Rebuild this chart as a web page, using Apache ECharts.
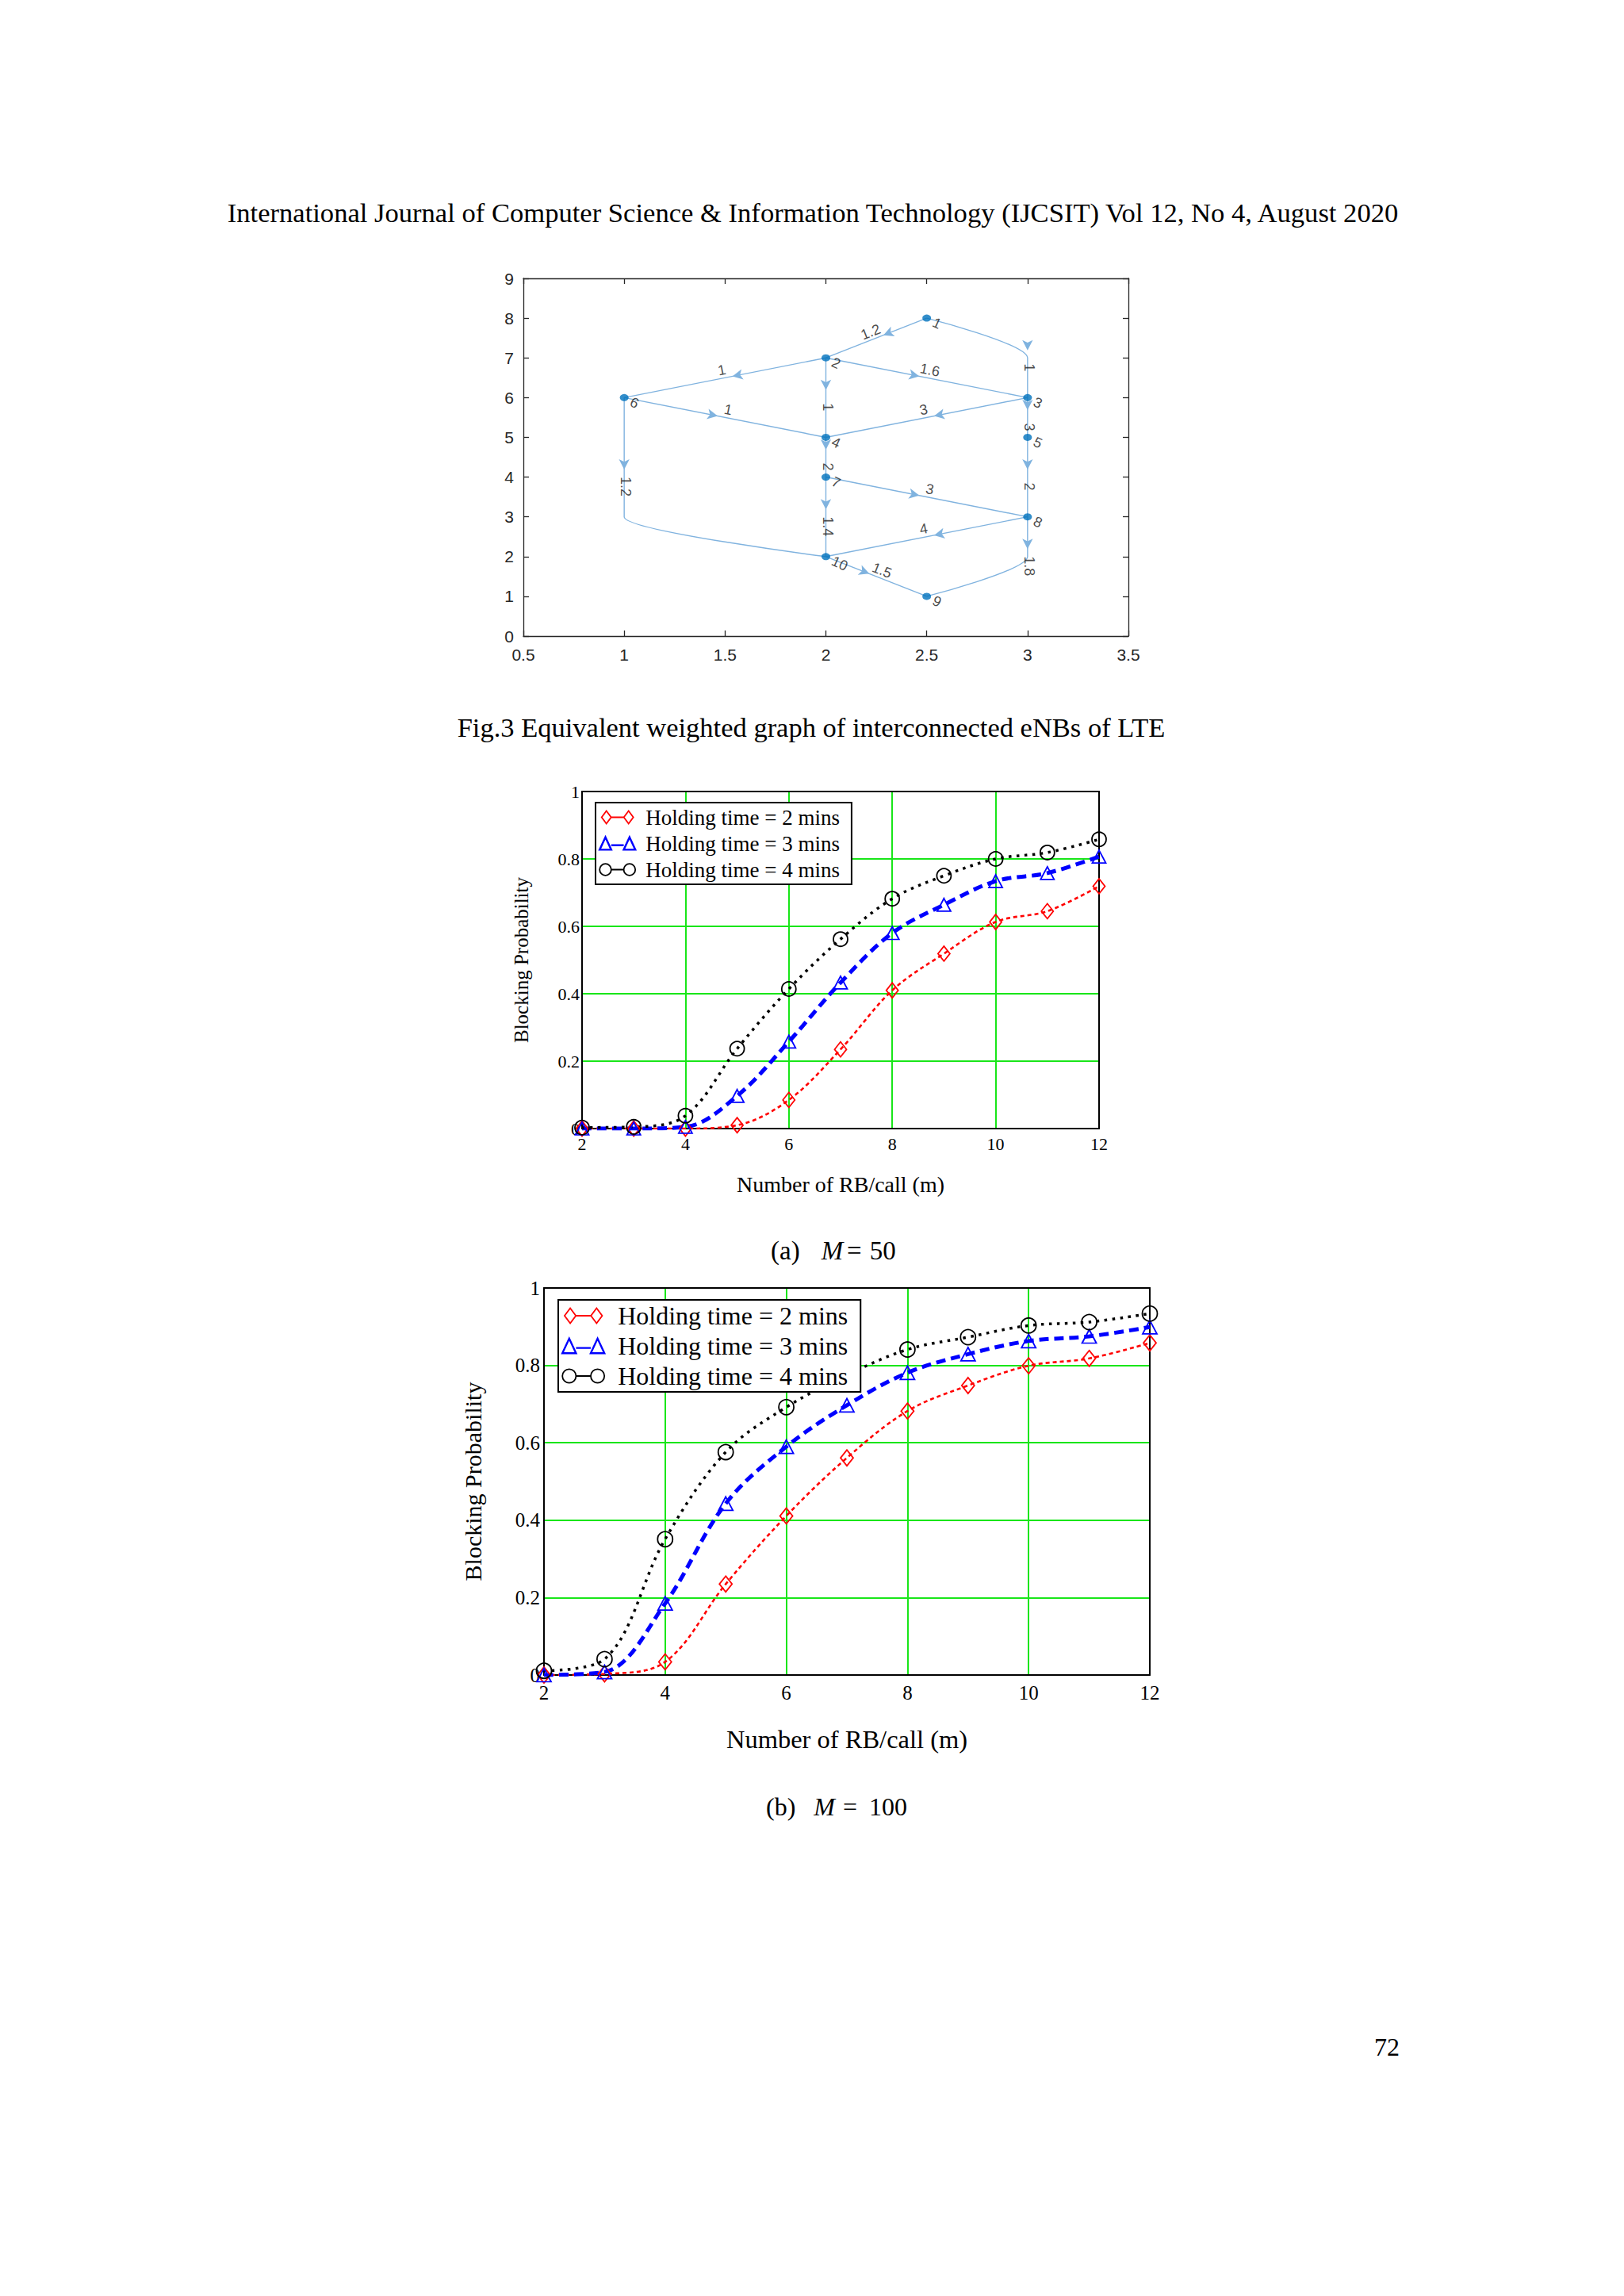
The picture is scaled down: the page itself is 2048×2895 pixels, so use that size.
<!DOCTYPE html>
<html>
<head>
<meta charset="utf-8">
<script src="https://cdn.jsdelivr.net/npm/echarts@6/dist/echarts.min.js"></script>
<style>
html,body{margin:0;padding:0;background:#fff;}
#c{width:2048px;height:2895px;}
</style>
</head>
<body>
<div id="c"></div>
<script>
// ---------------- Fig.3 : weighted graph data ----------------
const nodeNames = ['1', '2', '3', '4', '5', '6', '7', '8', '9', '10'];
const nodeX = [2.5, 2, 3, 2, 3, 1, 2, 3, 2.5, 2];
const nodeY = [8, 7, 6, 5, 5, 6, 4, 3, 1, 2];
const edgeSource = [1, 1, 2, 2, 2, 3, 3, 4, 5, 6, 6, 7, 7, 8, 8, 10];
const edgeTarget = [2, 3, 6, 3, 4, 4, 5, 7, 8, 4, 10, 8, 10, 10, 9, 9];
const edgeWeight = [1.2, 1, 1, 1.6, 1, 3, 3, 2, 2, 1, 1.2, 3, 1.4, 4, 1.8, 1.5];
// layered-layout bend points of the edges that span several layers (key = edge index)
const edgeBends = {1: [[3, 7]], 10: [[1, 5], [1, 4], [1, 3]], 14: [[3, 2]]};
const graphXTicks = [0.5, 3.5, 0.5];   // min, max, step
const graphYTicks = [0, 9, 1];

// ---------------- Blocking probability data ----------------
const rbPerCall = [2, 3, 4, 5, 6, 7, 8, 9, 10, 11, 12];
const seriesNames = ['Holding time = 2 mins', 'Holding time = 3 mins', 'Holding time = 4 mins'];
const blockM50_2min = [0, 0, 0, 0.01, 0.085, 0.235, 0.41, 0.519, 0.613, 0.645, 0.719];
const blockM50_3min = [0, 0, 0.005, 0.097, 0.258, 0.433, 0.58, 0.664, 0.734, 0.758, 0.807];
const blockM50_4min = [0.003, 0.005, 0.038, 0.237, 0.414, 0.562, 0.682, 0.75, 0.80, 0.819, 0.858];
const blockM100_2min = [0, 0.003, 0.034, 0.235, 0.411, 0.561, 0.682, 0.748, 0.799, 0.818, 0.858];
const blockM100_3min = [0, 0.008, 0.185, 0.443, 0.59, 0.697, 0.781, 0.829, 0.863, 0.875, 0.899];
const blockM100_4min = [0.011, 0.041, 0.351, 0.576, 0.692, 0.775, 0.841, 0.873, 0.903, 0.912, 0.934];
const rbTicks = [2, 12, 2];
const probTicks = [0, 1, 0.2];

// ---------------- layout / style ----------------
const SERIF = 'Liberation Serif';
const SANS = 'Liberation Sans';
const GREEN = '#19e619';
const EDGE = '#80b3df';
const MATBLUE = '#0072bd';
const AXGRAY = '#262626';

const G0 = {left: 660, top: 351, width: 763, height: 451};
const G1 = {left: 734, top: 998, width: 652, height: 425};
const G2 = {left: 686, top: 1624, width: 764, height: 488};

const pxX = G0.width / (graphXTicks[1] - graphXTicks[0]);
const pxY = G0.height / (graphYTicks[1] - graphYTicks[0]);

// ---- build graph series ----
const series = [];
const arrowData = [];
const weightData = [];
edgeSource.forEach(function (s, i) {
  const t = edgeTarget[i];
  const pts = [[nodeX[s - 1], nodeY[s - 1]]].concat(edgeBends[i] || [], [[nodeX[t - 1], nodeY[t - 1]]]);
  const bent = pts.length > 2;
  series.push({
    type: 'line', xAxisIndex: 0, yAxisIndex: 0, data: pts, symbol: 'none',
    smooth: bent ? 0.35 : false, smoothMonotone: 'y',
    lineStyle: {color: EDGE, width: 1.4}, silent: true, z: 2, animation: false
  });
  let M, ux, uy;
  if (bent) {
    const k = Math.floor(pts.length / 2);
    M = pts[k];
    ux = 0; uy = pts[k + 1][1] < pts[k - 1][1] ? 1 : -1;
  } else {
    M = [(pts[0][0] + pts[1][0]) / 2, (pts[0][1] + pts[1][1]) / 2];
    const sx = (pts[1][0] - pts[0][0]) * pxX, sy = -(pts[1][1] - pts[0][1]) * pxY;
    const L = Math.hypot(sx, sy); ux = sx / L; uy = sy / L;
  }
  const d = 9.5;
  arrowData.push({
    value: [M[0] - ux * d / pxX, M[1] + uy * d / pxY],
    symbolRotate: Math.atan2(-uy, ux) * 180 / Math.PI - 90
  });
  let off, rot;
  if (Math.abs(ux) < 0.01) {
    off = [12, -2]; rot = -90;
  } else {
    let n = [uy, -ux];
    if (n[1] > 0) n = [-uy, ux];
    off = [n[0] * 10.5, n[1] * 10.5];
    rot = Math.atan2(-uy, ux) * 180 / Math.PI;
    if (rot > 90) rot -= 180;
    if (rot < -90) rot += 180;
  }
  weightData.push({name: String(edgeWeight[i]), value: M, label: {offset: off, rotate: rot}});
});

series.push({
  type: 'scatter', xAxisIndex: 0, yAxisIndex: 0, data: arrowData,
  symbol: 'arrow', symbolSize: [10, 13], itemStyle: {color: EDGE, opacity: 1},
  silent: true, z: 3, animation: false
});
series.push({
  type: 'scatter', xAxisIndex: 0, yAxisIndex: 0, data: weightData,
  symbol: 'circle', symbolSize: 1, itemStyle: {color: 'rgba(0,0,0,0)'},
  label: {show: true, position: 'inside', formatter: '{b}', fontFamily: SANS, fontSize: 18, color: '#1a1a1a'},
  silent: true, z: 5, animation: false
});
series.push({
  type: 'scatter', xAxisIndex: 0, yAxisIndex: 0,
  data: nodeNames.map(function (nm, i) { return {name: nm, value: [nodeX[i], nodeY[i]]}; }),
  symbol: 'circle', symbolSize: [11, 9], itemStyle: {color: MATBLUE},
  label: {show: true, position: 'right', distance: 5, offset: [0, 5], rotate: -25, formatter: '{b}',
          fontFamily: SANS, fontSize: 18, color: '#1a1a1a'},
  silent: true, z: 4, animation: false
});

// ---- blocking probability curves ----
const symbols = ['diamond', 'triangle', 'circle'];
const colors = ['#ff0000', '#0000ff', '#000000'];
const lineTypes = [[5, 4], [12, 7], [3.5, 6.5]];
const lineWidths = [2.6, 5, 3.5];
function curve(k, values, axisIdx, sizes) {
  return {
    type: 'line', name: seriesNames[k], xAxisIndex: axisIdx, yAxisIndex: axisIdx,
    data: rbPerCall.map(function (x, j) { return [x, values[j]]; }),
    smooth: 0.35, symbol: symbols[k], symbolSize: sizes[k], showAllSymbol: true, clip: true,
    lineStyle: {color: colors[k], type: lineTypes[k], width: lineWidths[k], cap: 'butt'},
    itemStyle: {color: 'rgba(255,255,255,0)', borderColor: colors[k], borderWidth: 1.8},
    silent: true, z: 3, animation: false
  };
}
const sizesA = [[15, 19], [17, 16], 18];
const sizesB = [[16, 20], [18, 17], 19];
[blockM50_2min, blockM50_3min, blockM50_4min].forEach(function (v, k) { series.push(curve(k, v, 2, sizesA)); });
[blockM100_2min, blockM100_3min, blockM100_4min].forEach(function (v, k) { series.push(curve(k, v, 4, sizesB)); });

// ---- legend icons (marker - line - marker) ----
const legendIcons = [
  'path://M1,9L7,1L13,9L7,17ZM13,9L29,9M29,9L35,1L41,9L35,17Z',
  'path://M1,16L7.5,2L14,16ZM14,11L28,11M28,16L34.5,2L41,16Z',
  'path://M1,9A6.5,6.5 0 1,1 14,9A6.5,6.5 0 1,1 1,9ZM14,9L28,9M28,9A6.5,6.5 0 1,1 41,9A6.5,6.5 0 1,1 28,9Z'
];
function legendData() {
  return seriesNames.map(function (nm, k) {
    return {name: nm, icon: legendIcons[k],
            itemStyle: {color: 'rgba(255,255,255,0)', borderColor: colors[k], borderWidth: k === 1 ? 2.4 : 1.8}};
  });
}

// ---- axes ----
function graphAxis(dim, pos, showLabel, ticks) {
  return {
    gridIndex: 0, type: 'value', position: pos, min: ticks[0], max: ticks[1], interval: ticks[2],
    axisLine: {show: true, onZero: false, lineStyle: {color: AXGRAY, width: 1.3}},
    axisTick: {show: true, inside: true, length: 7, lineStyle: {color: AXGRAY, width: 1.3}},
    axisLabel: {show: showLabel, fontFamily: SANS, fontSize: 21, color: AXGRAY, margin: dim === 'x' ? 13 : 12},
    splitLine: {show: false}
  };
}
function plotAxis(gi, pos, ticks, main, fs, margin, name, nameSize, nameGap) {
  const ax = {
    gridIndex: gi, type: 'value', position: pos, min: ticks[0], max: ticks[1], interval: ticks[2],
    axisLine: {show: true, onZero: false, lineStyle: {color: '#000', width: 2}},
    axisTick: {show: false},
    axisLabel: {show: main, fontFamily: SERIF, fontSize: fs, color: '#000', margin: margin},
    splitLine: {show: main, showMinLine: false, showMaxLine: false, lineStyle: {color: GREEN, width: 2}}
  };
  if (name) {
    ax.name = name; ax.nameLocation = 'middle'; ax.nameGap = nameGap;
    ax.nameTextStyle = {fontFamily: SERIF, fontSize: nameSize, color: '#000'};
  }
  return ax;
}

const capRich = function (fs) {
  return {
    p: {fontFamily: SERIF, fontSize: fs, fill: '#000'},
    i: {fontFamily: SERIF, fontSize: fs, fontStyle: 'italic', fill: '#000'},
    e: {fontFamily: SERIF, fontSize: fs, fill: '#000'},
    n: {fontFamily: SERIF, fontSize: fs, fill: '#000'}
  };
};

const option = {
  backgroundColor: '#ffffff',
  animation: false,
  grid: [
    Object.assign({}, G0, {containLabel: false}),
    Object.assign({}, G1, {containLabel: false}),
    Object.assign({}, G2, {containLabel: false})
  ],
  xAxis: [
    graphAxis('x', 'bottom', true, graphXTicks),
    graphAxis('x', 'top', false, graphXTicks),
    plotAxis(1, 'bottom', rbTicks, true, 22, 8, 'Number of RB/call (m)', 28, 56),
    plotAxis(1, 'top', rbTicks, false, 22, 8),
    plotAxis(2, 'bottom', rbTicks, true, 25, 10, 'Number of RB/call (m)', 32.5, 64),
    plotAxis(2, 'top', rbTicks, false, 25, 10)
  ],
  yAxis: [
    graphAxis('y', 'left', true, graphYTicks),
    graphAxis('y', 'right', false, graphYTicks),
    plotAxis(1, 'left', probTicks, true, 22, 3, 'Blocking Probability', 25, 64),
    plotAxis(1, 'right', probTicks, false, 22, 3),
    plotAxis(2, 'left', probTicks, true, 25, 5, 'Blocking Probability', 30, 75),
    plotAxis(2, 'right', probTicks, false, 25, 5)
  ],
  legend: [
    {
      orient: 'vertical', left: 751, top: 1012, data: legendData(), selectedMode: false,
      itemWidth: 45, itemHeight: 16, itemGap: 6, padding: [5, 15, 5, 4],
      borderColor: '#000', borderWidth: 2, backgroundColor: '#fff', borderRadius: 0,
      textStyle: {fontFamily: SERIF, fontSize: 27, color: '#000', padding: [0, 0, 0, 8]}
    },
    {
      orient: 'vertical', left: 704, top: 1639, data: legendData(), selectedMode: false,
      itemWidth: 53, itemHeight: 19, itemGap: 6, padding: [4, 16, 4, 4],
      borderColor: '#000', borderWidth: 2, backgroundColor: '#fff', borderRadius: 0,
      textStyle: {fontFamily: SERIF, fontSize: 32, color: '#000', padding: [0, 0, 0, 12]}
    }
  ],
  graphic: [
    {type: 'text', x: 1025, y: 268, style: {text: 'International Journal of Computer Science & Information Technology (IJCSIT) Vol 12, No 4, August 2020',
      fontFamily: SERIF, fontSize: 34.6, fill: '#000', align: 'center', verticalAlign: 'middle'}},
    {type: 'text', x: 1023, y: 917, style: {text: 'Fig.3 Equivalent weighted graph of interconnected eNBs of LTE',
      fontFamily: SERIF, fontSize: 34.5, fill: '#000', align: 'center', verticalAlign: 'middle'}},
    {type: 'text', x: 972, y: 1577, style: {text: '{p|(a)}{i|M}{e|=}{n|50}', fontFamily: SERIF, fontSize: 33, fill: '#000',
      align: 'left', verticalAlign: 'middle', rich: Object.assign(capRich(33), {
        i: {fontFamily: SERIF, fontSize: 33, fontStyle: 'italic', fill: '#000', padding: [0, 0, 0, 27]},
        e: {fontFamily: SERIF, fontSize: 33, fill: '#000', padding: [0, 0, 0, 5]},
        n: {fontFamily: SERIF, fontSize: 33, fill: '#000', padding: [0, 0, 0, 10]}})}},
    {type: 'text', x: 966, y: 2278, style: {text: '{p|(b)}{i|M}{e|=}{n|100}', fontFamily: SERIF, fontSize: 32, fill: '#000',
      align: 'left', verticalAlign: 'middle', rich: Object.assign(capRich(32), {
        i: {fontFamily: SERIF, fontSize: 32, fontStyle: 'italic', fill: '#000', padding: [0, 0, 0, 23]},
        e: {fontFamily: SERIF, fontSize: 32, fill: '#000', padding: [0, 0, 0, 10]},
        n: {fontFamily: SERIF, fontSize: 32, fill: '#000', padding: [0, 0, 0, 15]}})}},
    {type: 'text', x: 1765, y: 2581, style: {text: '72', fontFamily: SERIF, fontSize: 32, fill: '#000',
      align: 'right', verticalAlign: 'middle'}}
  ],
  series: series
};

const chart = echarts.init(document.getElementById('c'), null, {renderer: 'svg', width: 2048, height: 2895});
chart.setOption(option);
</script>
</body>
</html>
